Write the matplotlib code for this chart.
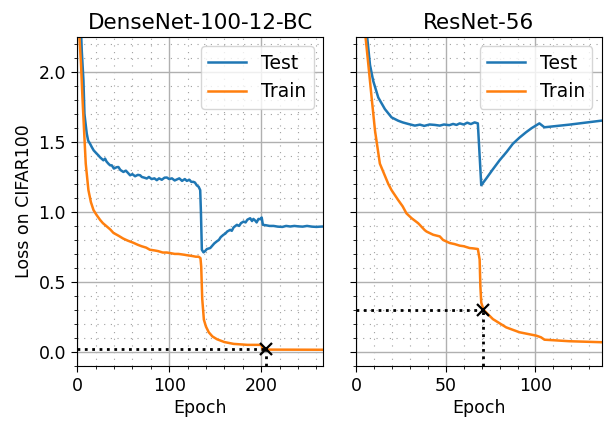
import matplotlib
matplotlib.use("Agg")
import matplotlib.pyplot as plt
from matplotlib.ticker import MultipleLocator

# DenseNet-100-12-BC (left panel)
dense_test_epoch = [3, 4.3, 5.1, 6.9, 8.0, 10.5, 12, 14.1, 16, 18, 21.4, 23.2, 25, 28.6,
                    30.4, 32, 34, 35.9, 37.7, 40, 43.1, 44.9, 47, 50.3, 53, 55.8, 57.6,
                    60, 63, 66, 68.5, 70.3, 73, 75.7, 78, 81, 84, 86.6, 89, 92, 95,
                    97.5, 100, 103, 106, 108.3, 111, 114, 117, 119.2, 122, 124, 126.4,
                    128, 130, 132, 133.7, 134.5, 135.5, 137.3, 139, 141, 144.6, 147,
                    149, 151.8, 154, 156, 159, 161, 163, 166.3, 168, 170, 173.6, 176,
                    178, 180.8, 183, 185, 188, 190, 191.5, 193.5, 195, 197, 198.9,
                    200.5, 201.8, 205, 209, 213.4, 218, 223, 227, 231.5, 236, 240,
                    245, 249.7, 255, 260, 264, 267.7]
dense_test_loss = [2.6, 2.29, 2.15, 1.94, 1.70, 1.56, 1.51, 1.487, 1.463, 1.44, 1.416,
                   1.404, 1.39, 1.369, 1.381, 1.36, 1.345, 1.333, 1.333, 1.31, 1.32,
                   1.321, 1.30, 1.286, 1.295, 1.275, 1.262, 1.27, 1.255, 1.265, 1.262,
                   1.25, 1.245, 1.239, 1.25, 1.235, 1.24, 1.227, 1.24, 1.23, 1.245,
                   1.246, 1.235, 1.24, 1.225, 1.232, 1.24, 1.222, 1.235, 1.222, 1.23,
                   1.215, 1.215, 1.21, 1.19, 1.18, 1.156, 1.0, 0.73, 0.711, 0.72, 0.735,
                   0.742, 0.76, 0.775, 0.79, 0.8, 0.82, 0.837, 0.845, 0.86, 0.872,
                   0.865, 0.89, 0.908, 0.9, 0.92, 0.931, 0.925, 0.945, 0.955, 0.935,
                   0.95, 0.938, 0.925, 0.95, 0.948, 0.96, 0.908, 0.905, 0.9, 0.90,
                   0.895, 0.893, 0.9, 0.896, 0.9, 0.897, 0.895, 0.90, 0.895, 0.893,
                   0.895, 0.896]
dense_train_epoch = [2.2, 4.3, 5.8, 7.6, 9.4, 12.3, 15, 17.8, 21, 25, 28, 32.3, 36,
                     39.5, 45, 50, 55, 61, 66, 70, 75, 79, 84, 88, 93, 97.5, 102,
                     106, 110, 115.5, 120, 125, 129, 132, 134, 134.8, 135.9, 137.7,
                     140, 143, 147, 152, 160, 170, 185, 199, 200.7, 201.5, 206, 267]
dense_train_loss = [2.29, 2.05, 1.82, 1.58, 1.345, 1.156, 1.07, 1.014, 0.98, 0.943,
                    0.92, 0.896, 0.875, 0.85, 0.83, 0.81, 0.795, 0.78, 0.765, 0.755,
                    0.745, 0.73, 0.725, 0.72, 0.71, 0.71, 0.705, 0.70, 0.70, 0.695,
                    0.69, 0.685, 0.68, 0.68, 0.67, 0.61, 0.38, 0.23, 0.18, 0.14, 0.11,
                    0.09, 0.07, 0.057, 0.05, 0.05, 0.045, 0.017, 0.016, 0.015]
dense_mark = (205, 0.021)

# ResNet-56 (right panel)
res_test_epoch = [5, 5.9, 7.8, 9.6, 12.4, 16.1, 19.8, 23.5, 26, 29.1, 32.8, 35.6, 38,
                  41, 43.9, 46.7, 49, 52, 54.1, 56, 57.8, 60, 62, 64, 66.1, 67.9,
                  69.8, 72.6, 76, 80, 84, 87.4, 91, 94.8, 98, 102.2, 105, 118.9, 136.5]
res_test_loss = [2.6, 2.29, 2.05, 1.936, 1.818, 1.735, 1.676, 1.652, 1.64, 1.629, 1.617,
                 1.624, 1.615, 1.625, 1.622, 1.617, 1.625, 1.62, 1.629, 1.622, 1.633,
                 1.625, 1.638, 1.628, 1.64, 1.633, 1.191, 1.239, 1.30, 1.369, 1.43,
                 1.487, 1.53, 1.57, 1.60, 1.633, 1.605, 1.624, 1.652]
res_train_epoch = [4, 5, 6.9, 8.7, 10.6, 13.3, 18, 19.8, 23.5, 26, 28.1, 31, 34.6,
                   38.3, 39.3, 43, 46.7, 48.5, 52.2, 55, 57.8, 60, 63.3, 65, 67.9,
                   68.9, 69.3, 69.8, 71.1, 76.3, 83.7, 91.1, 100.4, 103.1, 105,
                   118.9, 136.5]
res_train_loss = [2.6, 2.29, 2.05, 1.818, 1.58, 1.345, 1.20, 1.156, 1.085, 1.04, 0.99,
                  0.955, 0.92, 0.87, 0.86, 0.837, 0.825, 0.80, 0.778, 0.77, 0.759,
                  0.755, 0.742, 0.74, 0.735, 0.66, 0.47, 0.352, 0.30, 0.234, 0.175,
                  0.14, 0.116, 0.104, 0.087, 0.076, 0.069]
res_mark = (71, 0.30)

panels = [
    ("DenseNet-100-12-BC", dense_test_epoch, dense_test_loss, dense_train_epoch,
     dense_train_loss, dense_mark, 267, [0, 100, 200], 20),
    ("ResNet-56", res_test_epoch, res_test_loss, res_train_epoch,
     res_train_loss, res_mark, 137, [0, 50, 100], 10),
]

fig = plt.figure(figsize=(6.07, 4.21), dpi=100)
ax1 = fig.add_axes([0.127, 0.131, 0.405, 0.781])
ax2 = fig.add_axes([0.5865, 0.131, 0.405, 0.781], sharey=ax1)
YMIN = -0.1

for ax, (title, te, tl, re, rl, mark, xmax, xt, xminor) in zip([ax1, ax2], panels):
    ax.plot(te, tl, color="#1f77b4", lw=1.8, label="Test")
    ax.plot(re, rl, color="#ff7f0e", lw=1.8, label="Train")
    ax.plot([0, mark[0]], [mark[1], mark[1]], "k:", lw=2)
    ax.plot([mark[0], mark[0]], [YMIN, mark[1]], "k:", lw=2)
    ax.plot(*mark, "kx", ms=9, mew=1.6)
    ax.set_xlim(0, xmax)
    ax.set_ylim(YMIN, 2.25)
    ax.set_xticks(xt)
    ax.xaxis.set_minor_locator(MultipleLocator(xminor))
    ax.yaxis.set_major_locator(MultipleLocator(0.5))
    ax.yaxis.set_minor_locator(MultipleLocator(0.1))
    ax.grid(True, which="major", color="#b0b0b0", lw=1)
    ax.grid(True, which="minor", color="#a0a0a0", lw=0.8, ls=(0, (1, 5)))
    ax.set_axisbelow(True)
    ax.tick_params(labelsize=12.5, length=4.5)
    ax.tick_params(which="minor", length=2.5)
    ax.set_xlabel("Epoch", fontsize=12.5, labelpad=3)
    ax.set_title(title, fontsize=15.5)
    ax.legend(loc="upper right", fontsize=13.5)

ax1.set_ylabel("Loss on CIFAR100", fontsize=12.5)
plt.setp(ax2.get_yticklabels(), visible=False)

fig.savefig("out.png", dpi=100)
